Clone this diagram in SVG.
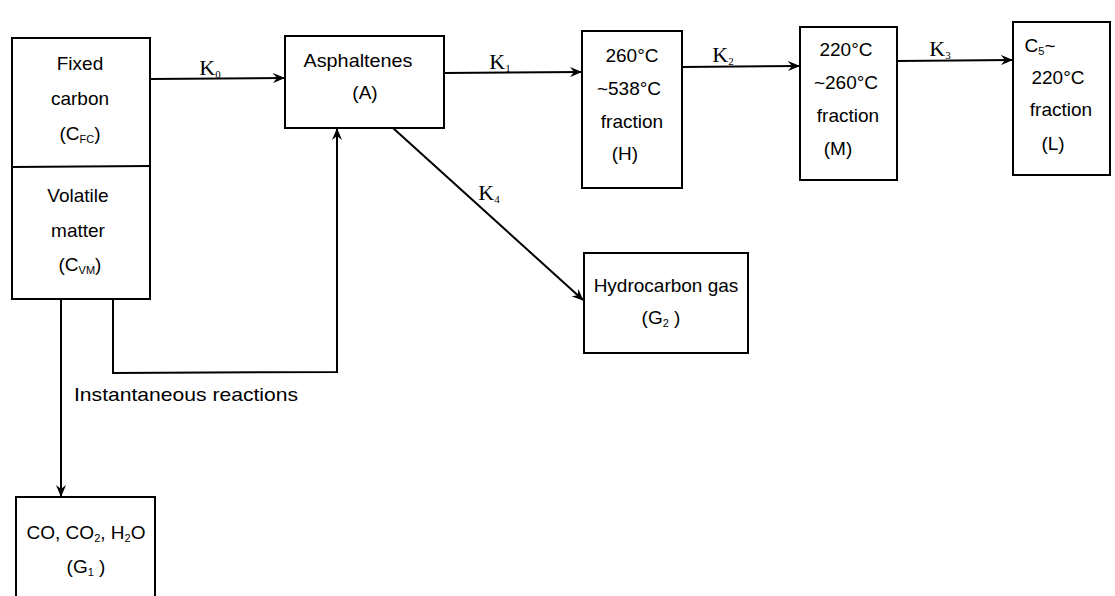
<svg xmlns="http://www.w3.org/2000/svg" width="1115" height="596" viewBox="0 0 1115 596">
<style>
.box{fill:#fff;stroke:#000;stroke-width:2}
.ln{fill:none;stroke:#000;stroke-width:2}
text{font-family:"Liberation Sans",Arial,sans-serif;font-size:19px;fill:#000;text-anchor:middle}
.k{font-family:"Liberation Serif","Times New Roman",serif;font-size:22px}
.sub{font-size:11px}
</style>
<defs>
<marker id="ah" markerWidth="12" markerHeight="10" refX="11" refY="5" orient="auto" markerUnits="userSpaceOnUse">
<path d="M0,0 L12,5 L0,10 L4,5 Z" fill="#000"/>
</marker>
</defs>
<rect width="1115" height="596" fill="#fff"/>
<g id="connectors">
<line class="ln" x1="150" y1="79" x2="284" y2="78" marker-end="url(#ah)"/>
<line class="ln" x1="444" y1="73" x2="581" y2="72" marker-end="url(#ah)"/>
<line class="ln" x1="682" y1="67" x2="799" y2="66" marker-end="url(#ah)"/>
<line class="ln" x1="897" y1="61" x2="1012" y2="60" marker-end="url(#ah)"/>
<line class="ln" x1="393" y1="128" x2="583" y2="300" marker-end="url(#ah)"/>
<polyline class="ln" points="113,300 113,373 337,372 337,129" marker-end="url(#ah)"/>
<line class="ln" x1="61" y1="300" x2="61" y2="496" marker-end="url(#ah)"/>
<text class="k" x="210" y="75">K<tspan class="sub" dy="3">0</tspan></text>
<text class="k" x="500" y="69">K<tspan class="sub" dy="3">1</tspan></text>
<text class="k" x="723" y="62">K<tspan class="sub" dy="3">2</tspan></text>
<text class="k" x="940" y="56">K<tspan class="sub" dy="3">3</tspan></text>
<text class="k" x="489" y="200">K<tspan class="sub" dy="3">4</tspan></text>
<text x="186" y="401" textLength="224" lengthAdjust="spacingAndGlyphs">Instantaneous reactions</text>
</g>
<g id="node-feed">
<rect class="box" x="12" y="38" width="138" height="261"/>
<line class="ln" x1="12" y1="167" x2="150" y2="166"/>
<text x="80" y="70">Fixed</text>
<text x="80" y="105">carbon</text>
<text x="80" y="140">(C<tspan class="sub" dy="3">FC</tspan><tspan dy="-3">)</tspan></text>
<text x="78" y="202">Volatile</text>
<text x="78" y="237">matter</text>
<text x="80" y="271">(C<tspan class="sub" dy="3">VM</tspan><tspan dy="-3">)</tspan></text>
</g>
<g id="node-A">
<rect class="box" x="285" y="36" width="159" height="92"/>
<text x="358" y="67" textLength="109" lengthAdjust="spacingAndGlyphs">Asphaltenes</text>
<text x="365" y="99">(A)</text>
</g>
<g id="node-H">
<rect class="box" x="582" y="31" width="100" height="157"/>
<text x="632" y="62">260°C</text>
<text x="629" y="95">~538°C</text>
<text x="632" y="128">fraction</text>
<text x="625" y="160">(H)</text>
</g>
<g id="node-M">
<rect class="box" x="800" y="27" width="97" height="153"/>
<text x="846" y="56">220°C</text>
<text x="846" y="89">~260°C</text>
<text x="848" y="122">fraction</text>
<text x="838" y="155">(M)</text>
</g>
<g id="node-L">
<rect class="box" x="1013" y="22" width="97" height="153"/>
<text x="1040" y="52">C<tspan class="sub" dy="3">5</tspan><tspan dy="-3">~</tspan></text>
<text x="1058" y="84">220°C</text>
<text x="1061" y="116">fraction</text>
<text x="1053" y="150">(L)</text>
</g>
<g id="node-G2">
<rect class="box" x="584" y="253" width="164" height="100"/>
<text x="666" y="292">Hydrocarbon gas</text>
<text x="661" y="324">(G<tspan class="sub" dy="3">2</tspan><tspan dy="-3"> )</tspan></text>
</g>
<g id="node-G1">
<rect class="box" x="16" y="497" width="139" height="110"/>
<text x="86" y="539">CO, CO<tspan class="sub" dy="3">2</tspan><tspan dy="-3">, H</tspan><tspan class="sub" dy="3">2</tspan><tspan dy="-3">O</tspan></text>
<text x="86" y="573">(G<tspan class="sub" dy="3">1</tspan><tspan dy="-3"> )</tspan></text>
</g>
</svg>
